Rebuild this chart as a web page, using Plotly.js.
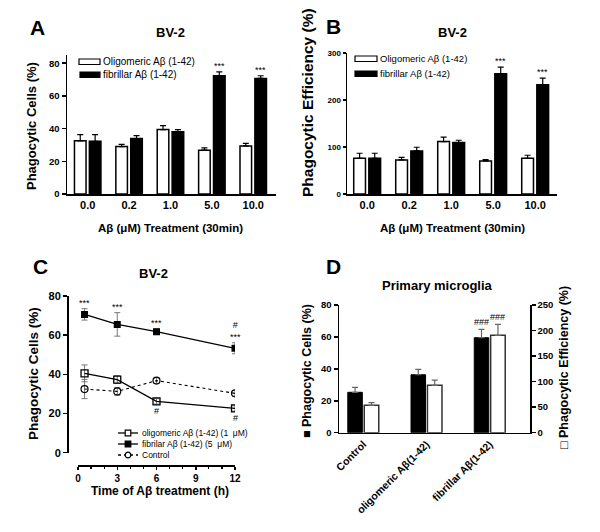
<!DOCTYPE html>
<html><head><meta charset="utf-8">
<script src="https://cdn.plot.ly/plotly-3.0.1.min.js"></script>
<style>html,body{margin:0;padding:0;background:#fff}#chart{width:600px;height:532px}</style>
</head><body><div id="chart"></div>
<script>
// ---------- Panel A : BV-2, phagocytic cells ----------
const doseLabels = ['0.0', '0.2', '1.0', '5.0', '10.0'];
const aOligo = [32.5, 29.0, 39.4, 26.8, 29.4];
const aOligoErr = [3.8, 1.3, 2.4, 1.4, 1.5];
const aFibril = [32.2, 33.9, 38.0, 72.3, 70.7];
const aFibrilErr = [4.1, 1.8, 1.4, 2.4, 1.6];
const aMarks = ['', '', '', '***', '***'];
// ---------- Panel B : BV-2, phagocytic efficiency ----------
const bOligo = [76, 72.5, 111.6, 70.4, 76];
const bOligoErr = [10.7, 5.5, 9.2, 2.8, 6.4];
const bFibril = [76, 91.7, 109.5, 256, 232.4];
const bFibrilErr = [10.7, 7.8, 4.9, 14, 14.2];
const bMarks = ['', '', '', '***', '***'];
// ---------- Panel C : time course ----------
const timeH = [0.5, 3, 6, 12];
const cOligo = [40.5, 37.3, 26.2, 22.6];
const cOligoErr = [4.3, 2.0, 1.4, 1.4];
const cFibril = [70.6, 65.5, 61.8, 53.3];
const cFibrilErr = [2.9, 6.0, 1.4, 2.8];
const cControl = [32.5, 31.3, 36.8, 30.3];
const cControlErr = [4.9, 2.0, 1.4, 1.4];
const cFibrilMarks = ['***', '***', '***', '#<br>***'];
const cOligoMarks = ['', '', '#', '#'];
// ---------- Panel D : primary microglia ----------
const dGroups = ['Control', 'oligomeric Aβ(1-42)', 'fibrillar Aβ(1-42)'];
const dCells = [25.3, 36.3, 59.5];
const dCellsErr = [3.1, 3.4, 5.2];
const dEff = [53.5, 92.7, 190.6];
const dEffErr = [5.2, 10.3, 21.4];
const dCellsMarks = ['', '', '###'];
const dEffMarks = ['', '', '###'];
// legend labels
const abSeriesNames = ['Oligomeric Aβ (1-42)', 'fibrillar Aβ (1-42)'];
const cSeriesNames = ['oligomeric Aβ (1-42) (1  μM)', 'fibrilar Aβ (1-42) (5  μM)', 'Control'];

const FONT = 'Liberation Sans, Arial, sans-serif';
const W = 600, H = 532;
const px = v => v / W;
const py = v => 1 - v / H;
const zeros = a => a.map(() => 0);
const bold = (size) => ({family: FONT, size: size, color: '#000', weight: 700});

function upErr(arr, color) {
  return {type: 'data', symmetric: false, array: arr, arrayminus: zeros(arr),
          color: color, thickness: 1.2, width: 3};
}
function symErr(arr, color) {
  return {type: 'data', array: arr, color: color, thickness: 1, width: 3};
}

const traces = [
  // A
  {type: 'bar', x: doseLabels, y: aOligo, xaxis: 'x', yaxis: 'y', name: abSeriesNames[0],
   width: 0.28, offset: -0.32, marker: {color: '#fff', line: {color: '#000', width: 1.5}},
   error_y: upErr(aOligoErr, '#000')},
  {type: 'bar', x: doseLabels, y: aFibril, xaxis: 'x', yaxis: 'y', name: abSeriesNames[1],
   width: 0.28, offset: 0.04, marker: {color: '#000', line: {color: '#000', width: 1.5}},
   error_y: upErr(aFibrilErr, '#000')},
  // B
  {type: 'bar', x: doseLabels, y: bOligo, xaxis: 'x2', yaxis: 'y2', name: abSeriesNames[0],
   width: 0.28, offset: -0.32, marker: {color: '#fff', line: {color: '#000', width: 1.5}},
   error_y: upErr(bOligoErr, '#000')},
  {type: 'bar', x: doseLabels, y: bFibril, xaxis: 'x2', yaxis: 'y2', name: abSeriesNames[1],
   width: 0.28, offset: 0.04, marker: {color: '#000', line: {color: '#000', width: 1.5}},
   error_y: upErr(bFibrilErr, '#000')},
  // C
  {type: 'scatter', mode: 'lines+markers', x: timeH, y: cOligo, xaxis: 'x3', yaxis: 'y3',
   name: cSeriesNames[0], line: {color: '#000', width: 1.3},
   marker: {symbol: 'square-open', size: 7, color: '#000', line: {width: 1.3}},
   error_y: symErr(cOligoErr, '#777')},
  {type: 'scatter', mode: 'lines+markers', x: timeH, y: cFibril, xaxis: 'x3', yaxis: 'y3',
   name: cSeriesNames[1], line: {color: '#000', width: 1.3},
   marker: {symbol: 'square', size: 7, color: '#000'},
   error_y: symErr(cFibrilErr, '#777')},
  {type: 'scatter', mode: 'lines+markers', x: timeH, y: cControl, xaxis: 'x3', yaxis: 'y3',
   name: cSeriesNames[2], line: {color: '#000', width: 1.1, dash: 'dot'},
   marker: {symbol: 'circle-open', size: 7, color: '#000', line: {width: 1.2}},
   error_y: symErr(cControlErr, '#777')},
  // D
  {type: 'bar', x: dGroups, y: dCells, xaxis: 'x4', yaxis: 'y4', name: 'Phagocytic Cells',
   width: 0.23, offset: -0.245, marker: {color: '#000', line: {color: '#000', width: 1}},
   error_y: upErr(dCellsErr, '#666')},
  {type: 'bar', x: dGroups, y: dEff, xaxis: 'x4', yaxis: 'y5', name: 'Phagocytic Efficiency',
   width: 0.23, offset: 0.015, marker: {color: '#fff', line: {color: '#333', width: 1.5}},
   error_y: upErr(dEffErr, '#666')}
];

const axBase = {showline: true, linecolor: '#000', linewidth: 1.5, showgrid: false, zeroline: false,
                ticks: 'outside', tickcolor: '#000', ticklen: 4, tickwidth: 1.5, fixedrange: true};

const annotations = [];
const shapes = [];
function ann(o) {
  annotations.push(Object.assign({showarrow: false, xanchor: 'center', yanchor: 'middle', font: bold(12)}, o));
}
function pann(text, x, y, font, extra) {
  ann(Object.assign({text: text, x: px(x), y: py(y), xref: 'paper', yref: 'paper', font: font}, extra || {}));
}
// panel letters & titles
pann('A', 37, 28, bold(21));
pann('B', 333, 27, bold(21));
pann('C', 40, 266, bold(21));
pann('D', 333, 266, bold(21));
pann('BV-2', 170, 33, bold(13));
pann('BV-2', 452, 33, bold(13));
pann('BV-2', 153, 273, bold(13));
pann('Primary microglia', 437, 285, bold(13));
// axis titles
pann('Phagocytic Cells (%)', 32, 126, bold(13), {textangle: -90});
pann('Aβ (μM) Treatment (30min)', 170, 228, bold(11.5));
pann('Phagocytic Efficiency (%)', 307, 103, bold(15.5), {textangle: -90});
pann('Aβ (μM) Treatment (30min)', 452, 228, bold(11.5));
pann('Phagocytic Cells (%)', 33, 374, bold(13.5), {textangle: -90});
pann('Time of Aβ treatment (h)', 160, 490.5, bold(12));
pann('■ Phagocytic Cells (%)', 307, 371, bold(12.5), {textangle: -90});
pann('□ Phagocytic Efficiency (%)', 564, 368, bold(12.5), {textangle: -90});
// significance marks (category index positions)
const markFont = {family: FONT, size: 9, color: '#000'};
aMarks.forEach((m, i) => { if (m) ann({text: m, x: i + 0.18, y: aFibril[i] + aFibrilErr[i], xref: 'x', yref: 'y', yanchor: 'bottom', yshift: -1, font: markFont}); });
bMarks.forEach((m, i) => { if (m) ann({text: m, x: i + 0.18, y: bFibril[i] + bFibrilErr[i], xref: 'x2', yref: 'y2', yanchor: 'bottom', yshift: -1, font: markFont}); });
cFibrilMarks.forEach((m, i) => { if (m) ann({text: m, x: timeH[i], y: cFibril[i] + cFibrilErr[i], xref: 'x3', yref: 'y3', yanchor: 'bottom', yshift: -1, font: markFont}); });
cOligoMarks.forEach((m, i) => { if (m) ann({text: m, x: timeH[i], y: cOligo[i] - cOligoErr[i], xref: 'x3', yref: 'y3', yanchor: 'top', yshift: 0, font: markFont}); });
dCellsMarks.forEach((m, i) => { if (m) ann({text: m, x: i - 0.13, y: dCells[i] + dCellsErr[i], xref: 'x4', yref: 'y4', yanchor: 'bottom', yshift: 0, font: markFont}); });
dEffMarks.forEach((m, i) => { if (m) ann({text: m, x: i + 0.13, y: dEff[i] + dEffErr[i], xref: 'x4', yref: 'y5', yanchor: 'bottom', yshift: 0, font: markFont}); });

// ---- legends (drawn as keys + text in page coordinates) ----
const legFont = {family: FONT, size: 9.5, color: '#000'};
function rectKey(x0, x1, y0, y1, fill) {
  shapes.push({type: 'rect', xref: 'paper', yref: 'paper', x0: px(x0), x1: px(x1), y0: py(y1), y1: py(y0),
               fillcolor: fill, line: {color: '#000', width: 1.2}, layer: 'above'});
}
function lineKey(x0, x1, y, dash) {
  shapes.push({type: 'line', xref: 'paper', yref: 'paper', x0: px(x0), x1: px(x1), y0: py(y), y1: py(y),
               line: {color: '#000', width: 1.3, dash: dash}, layer: 'above'});
}
function markKey(kind, cx, cy, r, fill) {
  shapes.push({type: kind, xref: 'paper', yref: 'paper', x0: px(cx - r), x1: px(cx + r), y0: py(cy + r), y1: py(cy - r),
               fillcolor: fill, line: {color: '#000', width: 1.2}, layer: 'above'});
}
function legText(text, x, y, size) {
  ann({text: text, x: px(x), y: py(y), xref: 'paper', yref: 'paper', xanchor: 'left', yanchor: 'middle',
       font: Object.assign({}, legFont, {size: size || 9.5})});
}
// A legend
rectKey(79, 100, 59, 64.5, '#fff');
rectKey(80, 100, 72, 77.5, '#000');
legText(abSeriesNames[0], 101, 61.5, 10);
legText(abSeriesNames[1], 101, 74.5, 10);
// B legend
rectKey(355, 377, 56, 61.5, '#fff');
rectKey(355, 377, 71, 76.5, '#000');
legText(abSeriesNames[0], 378, 58.5, 9.5);
legText(abSeriesNames[1], 378, 73.5, 9.5);
// C legend
lineKey(118, 138, 433, 'solid');
markKey('rect', 128, 433, 2.8, '#fff');
legText(cSeriesNames[0], 140, 433, 8.5);
lineKey(118, 138, 444, 'solid');
markKey('rect', 128, 444, 2.8, '#000');
legText(cSeriesNames[1], 140, 444, 8.5);
lineKey(118, 138, 455, 'dot');
markKey('circle', 128, 455, 2.8, '#fff');
legText(cSeriesNames[2], 140, 455, 8.5);

const layout = {
  width: W, height: H, margin: {l: 0, r: 0, t: 0, b: 0},
  paper_bgcolor: '#fff', plot_bgcolor: 'rgba(0,0,0,0)',
  font: {family: FONT, color: '#000'},
  barmode: 'overlay', showlegend: false,
  xaxis: Object.assign({}, axBase, {domain: [px(67), px(276)], anchor: 'y', type: 'category',
          range: [-0.5, 4.55], ticks: '', tickfont: bold(11)}),
  yaxis: Object.assign({}, axBase, {domain: [py(194), py(55)], anchor: 'x', range: [0, 85],
          tickvals: [0, 20, 40, 60, 80], tickfont: bold(9.5)}),
  xaxis2: Object.assign({}, axBase, {domain: [px(347), px(557)], anchor: 'y2', type: 'category',
          range: [-0.48, 4.52], ticks: '', tickfont: bold(11)}),
  yaxis2: Object.assign({}, axBase, {domain: [py(194), py(53)], anchor: 'x2', range: [0, 300],
          tickvals: [0, 100, 200, 300], tickfont: bold(8), ticklen: 3}),
  xaxis3: Object.assign({}, axBase, {domain: [px(78), px(235)], anchor: 'free', position: py(465),
          range: [0, 12], tickmode: 'linear', tick0: 0, dtick: 3, ticklen: 3, tickfont: bold(10),
          minor: {tick0: 0, dtick: 1, ticks: 'outside', ticklen: 2, tickwidth: 1.2, tickcolor: '#000'}}),
  yaxis3: Object.assign({}, axBase, {domain: [py(452.7), py(296)], anchor: 'free', position: px(67),
          range: [0, 80], tickvals: [0, 20, 40, 60, 80], tickfont: bold(11)}),
  xaxis4: Object.assign({}, axBase, {domain: [px(339), px(530)], anchor: 'y4', type: 'category',
          range: [-0.384, 2.637], ticks: '', tickangle: -45, tickfont: bold(10.5)}),
  yaxis4: Object.assign({}, axBase, {domain: [py(432.7), py(305)], anchor: 'x4', range: [0, 80],
          tickvals: [0, 20, 40, 60, 80], tickfont: bold(9.5)}),
  yaxis5: Object.assign({}, axBase, {overlaying: 'y4', side: 'right', anchor: 'x4', range: [0, 250],
          tickvals: [0, 50, 100, 150, 200, 250], tickfont: bold(9.5)}),
  annotations: annotations,
  shapes: shapes
};

Plotly.newPlot('chart', traces, layout, {staticPlot: true, displayModeBar: false});
</script></body></html>
